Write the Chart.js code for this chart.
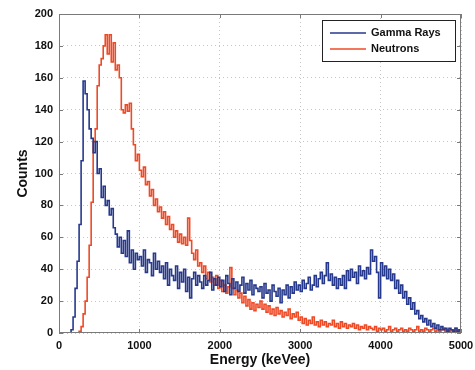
<!DOCTYPE html>
<html>
<head>
<meta charset="utf-8">
<script src="https://cdn.jsdelivr.net/npm/chart.js@4.4.0/dist/chart.umd.min.js"></script>
<style>
  html, body { margin: 0; padding: 0; background: #fff; }
</style>
</head>
<body>
<canvas id="histChart" width="475" height="370"></canvas>
<script>
// histogram bins: 25 keVee wide, starting at 0
const binWidth = 25;
const energyMax = 5000;

const gammaCounts = [
  0, 0, 0, 0, 0, 0, 2, 10, 28, 45,
  68, 108, 158, 150, 140, 128, 122, 113, 120, 100,
  103, 85, 92, 80, 83, 74, 78, 66, 62, 54,
  60, 50, 58, 48, 64, 44, 52, 40, 50, 46,
  48, 42, 52, 38, 46, 44, 36, 50, 40, 45,
  38, 42, 34, 44, 30, 40, 36, 33, 42, 28,
  38, 32, 40, 26, 35, 22, 34, 38, 30, 36,
  32, 28, 36, 30, 33, 38, 27, 34, 30, 35,
  29, 33, 26, 36, 31, 24, 34, 28, 32, 26,
  30, 35, 25, 31, 27, 33, 24, 30, 28, 26,
  29, 22, 31, 25, 27, 20, 30, 26, 23, 28,
  19, 27, 24, 30, 22, 29, 25, 32, 27, 30,
  26, 33, 28, 31, 35, 27, 30, 36, 29, 34,
  38, 31, 36, 44, 33, 37, 30, 35, 28, 34,
  30, 36, 28, 39, 33, 40, 35, 38, 31, 42,
  36, 39, 34, 41, 37, 52, 45, 48, 38, 22,
  44, 36, 42, 34, 40, 33, 37, 28, 33, 25,
  30, 22, 26, 18, 22, 15, 19, 12, 14, 9,
  11, 7, 9, 5, 8, 4, 6, 3, 5, 2,
  4, 2, 3, 1, 3, 2, 1, 3, 1, 2
];

const neutronCounts = [
  0, 0, 0, 0, 0, 0, 0, 0, 0, 0,
  1, 4, 12, 20, 35, 55, 82, 120, 128, 155,
  168, 172, 180, 187, 175, 187, 170, 182, 165, 168,
  160, 140, 138, 143, 139, 144, 128, 118, 108, 112,
  102, 98, 104, 93, 95, 86, 90, 80, 84, 76,
  79, 72, 76, 68, 73, 65, 68, 60, 64, 57,
  62, 56, 60, 55, 72, 58, 50, 46, 52, 42,
  44, 38, 42, 34, 38, 32, 35, 30, 36, 28,
  33, 26, 30, 25, 29, 41, 28, 24, 27, 22,
  25, 19, 23, 17, 21, 15, 19, 14, 18, 16,
  20, 15, 18, 13, 17, 12, 15, 11, 16, 12,
  14, 10, 13, 11, 15, 9, 12, 10, 13, 8,
  10, 6, 9, 5, 8, 6, 10, 5, 7, 4,
  8, 5, 7, 4, 6, 5, 8, 4, 6, 3,
  7, 4, 6, 3, 5, 4, 6, 3, 5, 2,
  4, 3, 5, 2, 4, 3, 2, 4, 1, 3,
  2, 3, 1, 2, 4, 1, 2, 3, 1, 2,
  3, 1, 2, 1, 3, 2, 1, 2, 4, 1,
  2, 1, 3, 2, 1, 2, 3, 1, 2, 1,
  2, 3, 1, 2, 1, 2, 1, 3, 1, 2
];

const seriesNames = ["Gamma Rays", "Neutrons"];
const seriesColors = ["#26398c", "#ee4a26"];

const xTicks = [0, 1000, 2000, 3000, 4000, 5000];
const yTicks = [0, 20, 40, 60, 80, 100, 120, 140, 160, 180, 200];

const FONT = "'Liberation Sans', Arial, sans-serif";

// turn counts into step points at the bin edges (last value held to the end)
function toSteps(counts) {
  const pts = counts.map((c, i) => ({ x: i * binWidth, y: c }));
  pts.push({ x: energyMax, y: counts[counts.length - 1] });
  return pts;
}

// ------------------------------
// box, inward ticks and legend, matlab style
// ------------------------------
const matlabFrame = {
  id: "matlabFrame",
  afterDraw(chart) {
    const { ctx, chartArea: a, scales } = chart;
    ctx.save();
    ctx.strokeStyle = "#7a7a7a";
    ctx.lineWidth = 1;
    ctx.strokeRect(a.left + 0.5, a.top + 0.5, a.right - a.left - 1, a.bottom - a.top - 1);

    ctx.beginPath();
    xTicks.forEach(v => {
      const x = Math.round(scales.x.getPixelForValue(v)) + 0.5;
      ctx.moveTo(x, a.bottom); ctx.lineTo(x, a.bottom - 4);
      ctx.moveTo(x, a.top); ctx.lineTo(x, a.top + 4);
    });
    yTicks.forEach(v => {
      const y = Math.round(scales.y.getPixelForValue(v)) + 0.5;
      ctx.moveTo(a.left, y); ctx.lineTo(a.left + 4, y);
      ctx.moveTo(a.right, y); ctx.lineTo(a.right - 4, y);
    });
    ctx.stroke();

    // legend box
    const bx = 322, by = 20, bw = 133, bh = 41;
    ctx.fillStyle = "#fff";
    ctx.fillRect(bx, by, bw, bh);
    ctx.strokeStyle = "#222";
    ctx.strokeRect(bx + 0.5, by + 0.5, bw, bh);
    ctx.font = "bold 11px " + FONT;
    ctx.textBaseline = "middle";
    chart.data.datasets.forEach((ds, i) => {
      const y = by + 13 + i * 16;
      ctx.strokeStyle = ds.borderColor;
      ctx.lineWidth = 1.5;
      ctx.beginPath();
      ctx.moveTo(bx + 8, y); ctx.lineTo(bx + 44, y);
      ctx.stroke();
      ctx.fillStyle = "#111";
      ctx.fillText(ds.label, bx + 49, y);
    });
    ctx.restore();
  }
};

function renderChart() {
  const ctx = document.getElementById("histChart").getContext("2d");

  new Chart(ctx, {
    type: "line",
    data: {
      datasets: [
        { label: seriesNames[0], data: toSteps(gammaCounts), borderColor: seriesColors[0] },
        { label: seriesNames[1], data: toSteps(neutronCounts), borderColor: seriesColors[1] }
      ]
    },
    options: {
      responsive: false,
      animation: false,
      parsing: false,
      layout: { padding: { left: 0, top: 14, right: 14, bottom: 0 } },
      elements: {
        line: { stepped: "before", borderWidth: 1.6, tension: 0, fill: false },
        point: { radius: 0 }
      },
      plugins: {
        legend: { display: false },
        tooltip: { enabled: false }
      },
      scales: {
        x: {
          type: "linear",
          min: 0,
          max: energyMax,
          afterBuildTicks: s => { s.ticks = xTicks.map(v => ({ value: v })); },
          afterFit: s => { s.height = 37; s.paddingRight = 0; s.paddingLeft = 0; },
          grid: { color: "#c4c4c4", drawTicks: false },
          border: { display: false, dash: [1, 3] },
          ticks: {
            padding: 6, color: "#111", font: { family: FONT, size: 11, weight: "bold" },
            callback: v => String(v)
          },
          title: {
            display: true, text: "Energy (keVee)", color: "#111",
            font: { family: FONT, size: 14, weight: "bold" }, padding: { top: 0, bottom: 1 }
          }
        },
        y: {
          min: 0,
          max: 200,
          afterBuildTicks: s => { s.ticks = yTicks.map(v => ({ value: v })); },
          afterFit: s => { s.width = 59; s.paddingTop = 0; s.paddingBottom = 0; },
          grid: { color: "#c4c4c4", drawTicks: false },
          border: { display: false, dash: [1, 3] },
          ticks: {
            padding: 6, color: "#111", font: { family: FONT, size: 11, weight: "bold" },
            callback: v => String(v)
          },
          title: {
            display: true, text: "Counts", color: "#111",
            font: { family: FONT, size: 14, weight: "bold" }, padding: { top: 15, bottom: 0 }
          }
        }
      }
    },
    plugins: [matlabFrame]
  });
}

document.addEventListener("DOMContentLoaded", renderChart);
</script>
</body>
</html>
